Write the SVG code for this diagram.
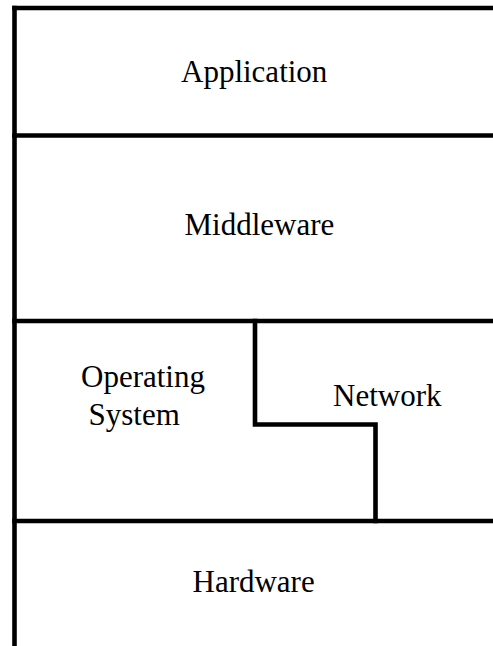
<svg xmlns="http://www.w3.org/2000/svg" width="493" height="646" viewBox="0 0 493 646">
<style>
.ln{stroke:#000;stroke-width:4.6;fill:none;stroke-linecap:butt;stroke-linejoin:miter}
.t{font-size:31px;fill:#000}
</style>
<rect width="493" height="646" fill="#fff"/>
<g id="borders">
<path class="ln" d="M12.2 8 H493"/>
<path class="ln" d="M14.5 5.7 V646"/>
<path class="ln" d="M12.2 135.5 H493"/>
<path class="ln" d="M12.2 321 H493"/>
<path class="ln" d="M12.2 521 H493"/>
<path class="ln" d="M255 318.7 V424.5 H375.5 V523.3"/>
</g>
<g font-family="Liberation Serif, DejaVu Serif, serif">
<g id="application"><text class="t" x="181" y="82">Application</text></g>
<g id="middleware"><text class="t" x="184.5" y="235">Middleware</text></g>
<g id="os"><text class="t" x="81" y="387">Operating</text><text class="t" x="88.5" y="425">System</text></g>
<g id="network"><text class="t" x="333" y="406">Network</text></g>
<g id="hardware"><text class="t" x="192.5" y="592">Hardware</text></g>
</g>
</svg>
